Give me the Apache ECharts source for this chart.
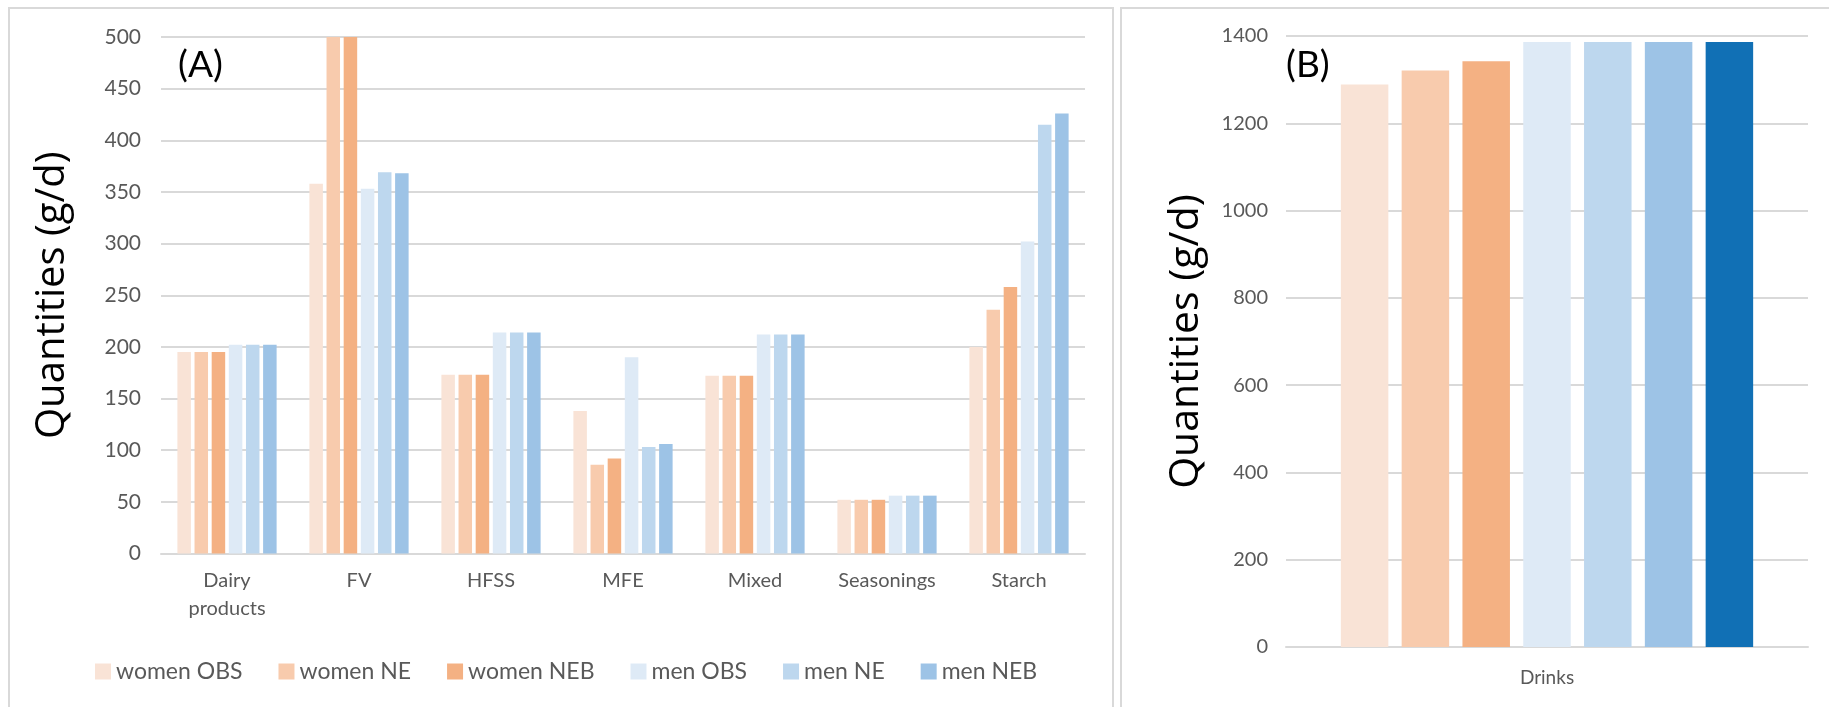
<!DOCTYPE html>
<html>
<head>
<meta charset="utf-8">
<script src="https://cdn.jsdelivr.net/npm/echarts@6/dist/echarts.min.js"></script>
<style>
html,body{margin:0;padding:0;background:#fff;}
#chart{width:1829px;height:707px;}
</style>
</head>
<body>
<div id="chart"></div>
<script>
// ---- Data ----
const categoriesA = ['Dairy\nproducts', 'FV', 'HFSS', 'MFE', 'Mixed', 'Seasonings', 'Starch'];
const seriesNames = ['women OBS', 'women NE', 'women NEB', 'men OBS', 'men NE', 'men NEB'];
const womenOBS = [195, 358, 173, 138, 172, 52, 200];
const womenNE  = [195, 500, 173, 86, 172, 52, 236];
const womenNEB = [195, 500, 173, 92, 172, 52, 258];
const menOBS   = [202, 353, 214, 190, 212, 56, 302];
const menNE    = [202, 369, 214, 103, 212, 56, 415];
const menNEB   = [202, 368, 214, 106, 212, 56, 426];
const valuesA = [womenOBS, womenNE, womenNEB, menOBS, menNE, menNEB];

const categoriesB = ['Drinks'];
const seriesNamesB = ['women OBS', 'women NE', 'women NEB', 'men OBS', 'men NE', 'men NEB', 'drinks 7'];
const drinksValues = [1289, 1321, 1342, 1386, 1386, 1386, 1386];

const yTicksA = {min: 0, max: 500, interval: 50};
const yTicksB = {min: 0, max: 1400, interval: 200};

// ---- Styles ----
const colors = ['#F9E3D6', '#F8CBAD', '#F4B183', '#DEEAF6', '#BDD7EE', '#9DC3E6', '#1170B5'];
const FONT = 'Lato, "Open Sans", sans-serif';
const TITLEFONT = '"Open Sans", Lato, sans-serif';
const grey = '#595959';
const gridLine = '#D9D9D9';

const chart = echarts.init(document.getElementById('chart'), null, {renderer: 'canvas'});

const series = [];
valuesA.forEach((vals, i) => {
  series.push({
    name: seriesNames[i], type: 'bar', xAxisIndex: 0, yAxisIndex: 0,
    data: vals, barWidth: 13.5, barGap: '27%',
    itemStyle: {color: colors[i]}, silent: true
  });
});
drinksValues.forEach((v, i) => {
  series.push({
    name: seriesNamesB[i], type: 'bar', xAxisIndex: 1, yAxisIndex: 1,
    data: [v], barWidth: 47.5, barGap: '28%',
    itemStyle: {color: colors[i]}, silent: true
  });
});

const plain = v => String(v);

const option = {
  animation: false,
  backgroundColor: '#fff',
  textStyle: {fontFamily: FONT},
  grid: [
    {left: 161, right: 744, top: 37, bottom: 153.5},
    {left: 1286, right: 21, top: 36, bottom: 60}
  ],
  legend: {
    data: seriesNames,
    left: 90, top: 655,
    itemWidth: 16, itemHeight: 16, itemGap: 36,
    icon: 'rect',
    textStyle: {fontFamily: FONT, fontSize: 23, color: grey}
  },
  xAxis: [
    {type: 'category', gridIndex: 0, data: categoriesA,
     axisLine: {lineStyle: {color: gridLine, width: 2}}, axisTick: {show: false},
     axisLabel: {fontSize: 20, color: grey, margin: 13, lineHeight: 28, fontFamily: FONT}},
    {type: 'category', gridIndex: 1, data: categoriesB,
     axisLine: {lineStyle: {color: gridLine, width: 2}}, axisTick: {show: false},
     axisLabel: {fontSize: 19, color: grey, margin: 21, fontFamily: FONT}}
  ],
  yAxis: [
    {type: 'value', gridIndex: 0, min: yTicksA.min, max: yTicksA.max, interval: yTicksA.interval,
     name: 'Quantities (g/d)', nameLocation: 'middle', nameGap: 88,
     nameTextStyle: {fontSize: 40, color: '#000', fontFamily: TITLEFONT},
     axisLine: {show: false}, axisTick: {show: false},
     axisLabel: {fontSize: 21, color: grey, margin: 20, fontFamily: FONT, formatter: plain},
     splitLine: {lineStyle: {color: gridLine, width: 2}}},
    {type: 'value', gridIndex: 1, min: yTicksB.min, max: yTicksB.max, interval: yTicksB.interval,
     name: 'Quantities (g/d)', nameLocation: 'middle', nameGap: 79,
     nameTextStyle: {fontSize: 41, color: '#000', fontFamily: TITLEFONT},
     axisLine: {show: false}, axisTick: {show: false},
     axisLabel: {fontSize: 20, color: grey, margin: 18, fontFamily: FONT, formatter: plain},
     splitLine: {lineStyle: {color: gridLine, width: 2}}}
  ],
  graphic: [
    {type: 'rect', shape: {x: 9, y: 8, width: 1104, height: 720}, style: {fill: 'none', stroke: '#D9D9D9', lineWidth: 2}, silent: true, z: -1},
    {type: 'rect', shape: {x: 1121, y: 8, width: 740, height: 720}, style: {fill: 'none', stroke: '#D9D9D9', lineWidth: 2}, silent: true, z: -1},
    {type: 'text', left: 178, top: 47, style: {text: '(A)', fontSize: 37, fill: '#000', fontFamily: FONT}, z: 10},
    {type: 'text', left: 1286, top: 47, style: {text: '(B)', fontSize: 37, fill: '#000', fontFamily: FONT}, z: 10}
  ],
  series: series
};
chart.setOption(option);
</script>
</body>
</html>
